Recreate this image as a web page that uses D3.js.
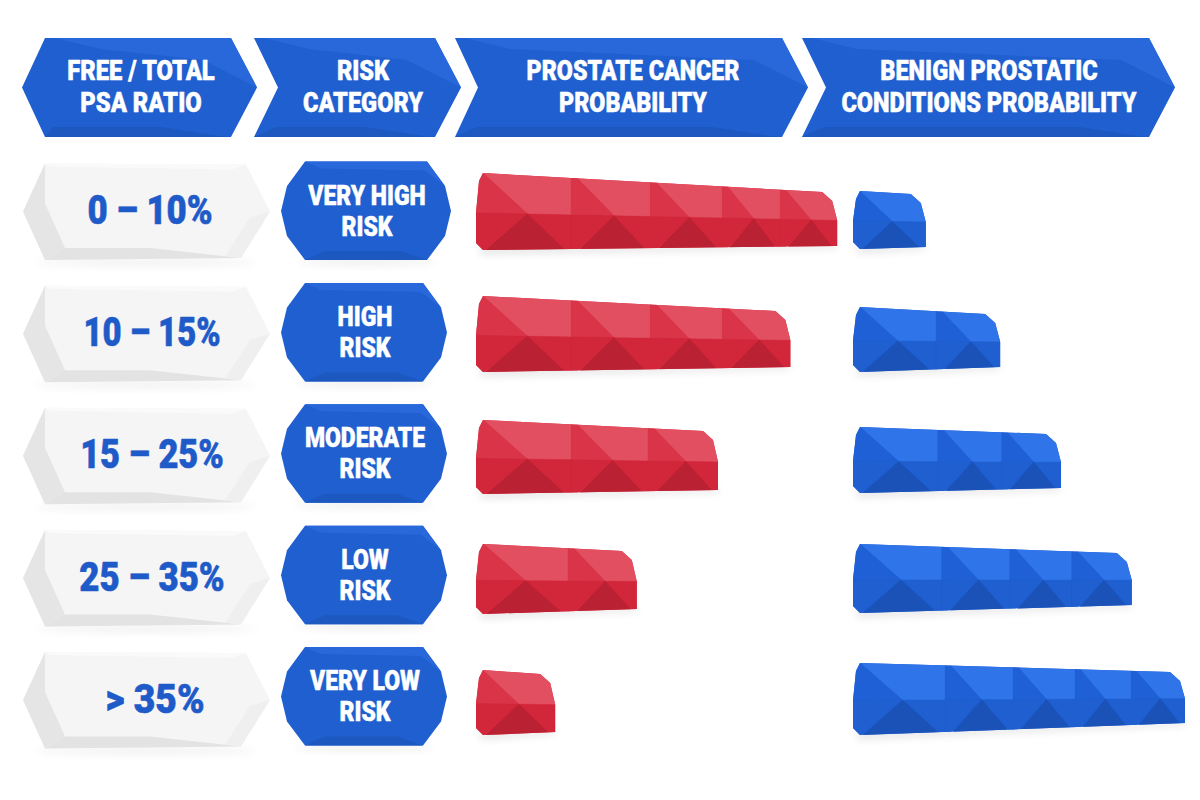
<!DOCTYPE html>
<html><head><meta charset="utf-8">
<script src="https://cdnjs.cloudflare.com/ajax/libs/d3/7.8.5/d3.min.js"></script>
<style>html,body{margin:0;padding:0;background:#fff}svg{display:block}text{font-family:Roboto,"Liberation Sans",sans-serif;font-weight:900;text-anchor:middle;stroke-linejoin:round}</style>
</head><body><svg id="c" width="1200" height="800"></svg>
<script>
// ---- data ----
const headerLines = [["FREE / TOTAL","PSA RATIO"],["RISK","CATEGORY"],["PROSTATE CANCER","PROBABILITY"],["BENIGN PROSTATIC","CONDITIONS PROBABILITY"]];
const ratioLabels = ["0 – 10%","10 – 15%","15 – 25%","25 – 35%","> 35%"];
const riskLines = [["VERY HIGH","RISK"],["HIGH","RISK"],["MODERATE","RISK"],["LOW","RISK"],["VERY LOW","RISK"]];
// probability blocks per row, in value units
const cancerBlocks = [[23.8,19.8,18,14.5,14.2],[23.8,19.8,18,17],[23.8,19.2,17.5],[23,17.2],[19.8]];
const benignBlocks = [[18.2],[20.8,16],[21.2,16,14.8],[22.2,17,15.5,15],[23,17,15.5,14,13.5]];

// ---- layout ----
const svg = d3.select("#c");
const unit = d3.scaleLinear().domain([0,100]).range([0,400]);
const rowY = d3.scalePoint().domain(d3.range(5)).range([211.5,700]);
const badgeY = d3.scalePoint().domain(d3.range(5)).range([211,696.5]);
const cancerX0 = 476, benignX0 = 853;
const cancerEdges = [[173,192,250,246],[296,311,372,367],[420,431,494,490],[544,551,614,609],[670,674,735,732]];
const benignEdges = [[191,194,249,247],[307,314,372,367],[427,434,493,488],[544,553,613,605],[663,672,735,723]];
const ratioCx = [150,152,152,152,155];
const ratioSqueeze = [0.87,0.82,0.86,0.87,0.93];
const redPal = {top:"#e24f61",left:"#d93448",low:"#d2273b",dark:"#ba2132",side:"#d42c40"};
const bluePal = {top:"#2f74e8",left:"#2060d6",low:"#1f5fd0",dark:"#1b52b8",side:"#1f5fd2"};
const line = d3.line().curve(d3.curveLinearClosed);

const defs = svg.append("defs");
defs.append("filter").attr("id","soft").attr("x","-10%").attr("y","-100%").attr("width","120%").attr("height","300%")
  .append("feGaussianBlur").attr("stdDeviation",4);

function setLabel(g, lines, cx, cy, size, leading, squeeze, fill, bold){
  lines.forEach((t,i)=>{
    const y = cy + (i-(lines.length-1)/2)*leading;
    const el = g.append("text").attr("x",cx).attr("y",y).attr("dy","0.355em")
      .attr("font-size",size).attr("fill",fill).attr("stroke",fill).attr("stroke-width",bold).text(t);
    const w = el.node().getComputedTextLength();
    el.attr("textLength",w*squeeze).attr("lengthAdjust","spacingAndGlyphs");
  });
}

// ---- header chevrons ----
const headerBoxes = [
  {l:22,r:257,notch:0,cap:true,lt:45,cx:141,sq:0.85},
  {l:254,r:461,notch:24,cx:363,sq:0.84},
  {l:455,r:808,notch:23,cx:633,sq:0.83},
  {l:802,r:1175,notch:24,cx:989,sq:0.84}];
const hTop=38,hBot=137,hMid=87.5;
headerBoxes.forEach((b,i)=>{
  const g = svg.append("g");
  const sh = b.r-26;
  const left = b.cap ? [[b.lt,hTop],[b.lt,hBot],[b.l,hMid]] : [[b.l,hTop],[b.l,hBot],[b.l+b.notch,hMid]];
  const outline = b.cap
    ? [[b.l,hMid],[b.lt,hTop],[sh,hTop],[b.r,hMid],[sh,hBot],[b.lt,hBot]]
    : [[b.l,hTop],[sh,hTop],[b.r,hMid],[sh,hBot],[b.l,hBot],[b.l+b.notch,hMid]];
  g.append("path").attr("d",line(outline)).attr("fill","#1f5fcf");
  g.append("path").attr("d",line([[left[0][0]+10,hTop],[sh,hTop],[b.r,hMid],[sh-28,hTop+22],[left[0][0]+55,hTop+11]])).attr("fill","#2868da");
  g.append("path").attr("d",line([[left[1][0]+ (b.cap?8:22),hBot-10],[sh-70,hBot-10],[sh-12,hBot-1],[sh,hBot],[left[1][0],hBot]])).attr("fill","#1c58bf");
  setLabel(g, headerLines[i], b.cx, 86, 28, 32, b.sq, "#fff", 0.5);
});

// ---- ratio plates ----
ratioLabels.forEach((t,i)=>{
  const c = rowY(i), g = svg.append("g");
  g.append("ellipse").attr("cx",146).attr("cy",c+51).attr("rx",112).attr("ry",3).attr("fill","#000").attr("opacity",.07).attr("filter","url(#soft)");
  const T=c-48,B=c+48.5;
  g.append("path").attr("d",line([[23,c],[45,T],[246,T+1],[270,c],[241,B-2],[45,B]])).attr("fill","#f5f5f5");
  g.append("path").attr("d",line([[23,c],[45,T],[45,c-8],[65,B-12],[45,B]])).attr("fill","#e5e5e5");
  g.append("path").attr("d",line([[45,T],[246,T+1],[232,T+6],[50,T+3]])).attr("fill","#fafafa");
  g.append("path").attr("d",line([[65,B-12],[150,B-12],[205,B-6],[241,B-2],[45,B]])).attr("fill","#e3e3e3");
  g.append("path").attr("d",line([[270,c],[241,B-2],[225,B-4],[250,c+6]])).attr("fill","#efefef");
  setLabel(g,[t],ratioCx[i],c-1.5,40,0,ratioSqueeze[i],"#1f5bc8",0.6);
});

// ---- risk badges ----
riskLines.forEach((lines,i)=>{
  const c = badgeY(i), g = svg.append("g"), R = i===0?451:447, L=281;
  const T=c-49.5,B=c+49;
  g.append("ellipse").attr("cx",(L+R)/2).attr("cy",B+2).attr("rx",70).attr("ry",3).attr("fill","#000").attr("opacity",.08).attr("filter","url(#soft)");
  const out=[[L,c],[L+6,c-25],[L+24,T],[R-24,T],[R-6,c-25],[R,c],[R-6,c+25],[R-24,B],[L+24,B],[L+6,c+25]];
  g.append("path").attr("d",line(out)).attr("fill","#1f5fcf");
  g.append("path").attr("d",line([[L+24,T],[R-24,T],[R-6,c-25],[R-26,T+9],[L+40,T+7]])).attr("fill","#2868da");
  g.append("path").attr("d",line([[L+24,B],[L+44,B-9],[R-50,B-9],[R-24,B]])).attr("fill","#1c58bf");
  setLabel(g,lines,(L+R)/2+1,c-0.5,27,31,0.85,"#fff",0.5);
});

// ---- probability bars ----
function drawBar(row, blocks, x0, edges, pal){
  const len = unit(d3.sum(blocks));
  const x1 = x0+len;
  const [tl,tr,bl,br] = edges;
  const topY = d3.scaleLinear().domain([x0+7,x1-15]).range([tl,tr]);
  const botY = d3.scaleLinear().domain([x0+7,x1]).range([bl,br]);
  const midFrac = 0.52;
  const midY = x => topY(x)+(botY(x)-topY(x))*midFrac;
  const g = svg.append("g");
  g.append("path").attr("d",line([[x0+4,bl-3],[x1,br-2],[x1,br+2],[x0+4,bl+4]])).attr("fill","#000").attr("opacity",.12).attr("filter","url(#soft)");

  const out = [[x0,midY(x0)],[x0+3,tl+8],[x0+7,tl],[x1-15,tr],[x1-5,tr+9],[x1,midY(x1)],[x1,br],[x0+7,bl],[x0,bl-7]];
  const clip = `clip-${x0}-${row}`;
  defs.append("clipPath").attr("id",clip).append("path").attr("d",line(out));
  g.append("path").attr("d",line(out)).attr("fill",pal.side);
  const inner = g.append("g").attr("clip-path",`url(#${clip})`);

  let s = x0;
  blocks.forEach((b)=>{
    const e = s+unit(b);
    const ax = s+(e-s)*0.54, ay = midY(ax);
    const extT = -6, extB = 6;
    const sm=midY(s), em=midY(e);
    const facets = [
      [[[s,topY(s)+extT],[e,topY(e)+extT],[e,em],[ax,ay]],pal.top],
      [[[s,topY(s)+extT],[ax,ay],[s,sm]],pal.left],
      [[[s,sm],[ax,ay],[s,botY(s)+extB]],pal.low],
      [[[e,em],[ax,ay],[e,botY(e)+extB]],pal.low],
      [[[s+3,botY(s)+extB],[ax,ay],[e-1,botY(e)+extB]],pal.dark]
    ];
    facets.forEach(([p,f])=>inner.append("path").attr("d",line(p)).attr("fill",f).attr("stroke",f).attr("stroke-width",.4));
    s = e;
  });
}
cancerBlocks.forEach((b,i)=>drawBar(i,b,cancerX0,cancerEdges[i],redPal));
benignBlocks.forEach((b,i)=>drawBar(i,b,benignX0,benignEdges[i],bluePal));
</script></body></html>
